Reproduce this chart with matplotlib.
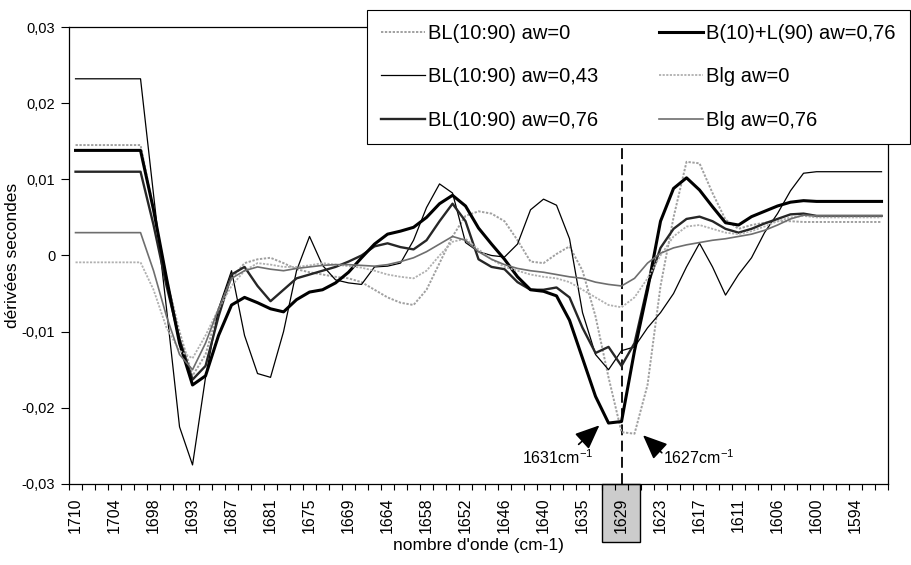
import matplotlib
matplotlib.use("Agg")
import matplotlib.pyplot as plt
from matplotlib.patches import Rectangle
import matplotlib.transforms as mtransforms
import numpy as np

plt.rcParams['font.family'] = ['Liberation Sans', 'DejaVu Sans']
plt.rcParams['mathtext.default'] = 'regular'

# wavenumbers (cm-1), one per category
wavenumbers = [1710, 1708, 1706, 1704, 1702, 1700, 1698, 1696, 1695, 1693,
               1691, 1689, 1687, 1685, 1683, 1681, 1679, 1677, 1675, 1673,
               1671, 1669, 1667, 1666, 1664, 1662, 1660, 1658, 1656, 1654,
               1652, 1650, 1648, 1646, 1644, 1642, 1640, 1638, 1637, 1635,
               1633, 1631, 1629, 1627, 1625, 1623, 1621, 1619, 1617, 1615,
               1613, 1611, 1609, 1608, 1606, 1604, 1602, 1600, 1598, 1596,
               1594, 1592, 1590]

# second derivative spectra
bl_aw0 = [0.0145, 0.0145, 0.0145, 0.0145, 0.0145, 0.0145, 0.006, -0.003, -0.010, -0.0158,
          -0.013, -0.007, -0.003, -0.001, -0.0005, -0.0003, -0.001, -0.0018, -0.0022, -0.0025,
          -0.0028, -0.003, -0.0035, -0.0045, -0.0055, -0.0062, -0.0065, -0.0045, -0.001, 0.0025,
          0.0052, 0.0058, 0.0055, 0.0045, 0.002, -0.0008, -0.001, 0.0002, 0.0012, -0.002,
          -0.008, -0.016, -0.0232, -0.0234, -0.017, -0.004, 0.005, 0.0123, 0.0121, 0.0082,
          0.0047, 0.0035, 0.004, 0.0043, 0.0045, 0.0045, 0.0044, 0.0044, 0.0044, 0.0044,
          0.0044, 0.0044, 0.0044]
bl_aw043 = [0.0232, 0.0232, 0.0232, 0.0232, 0.0232, 0.0232, 0.008, -0.007, -0.0225, -0.0275,
            -0.016, -0.007, -0.002, -0.0105, -0.0155, -0.016, -0.010, -0.002, 0.0025, -0.0013,
            -0.0032, -0.0036, -0.0038, -0.0015, -0.0014, -0.001, 0.002, 0.0063, 0.0094, 0.0082,
            0.0017, 0.0005, 0.0, -0.0002, 0.0015, 0.006, 0.0074, 0.0066, 0.0022, -0.0075,
            -0.013, -0.015, -0.0125, -0.012, -0.0095, -0.0075, -0.005, -0.0015, 0.0016, -0.0015,
            -0.0052, -0.0025, -0.0003, 0.003, 0.0055, 0.0085, 0.0108, 0.011, 0.011, 0.011,
            0.011, 0.011, 0.011]
bl_aw076 = [0.011, 0.011, 0.011, 0.011, 0.011, 0.011, 0.004, -0.004, -0.011, -0.0163,
            -0.0145, -0.008, -0.0025, -0.0015, -0.004, -0.006, -0.0045, -0.003, -0.0025, -0.002,
            -0.0015, -0.0008, 0.0, 0.0012, 0.0016, 0.0011, 0.0008, 0.002, 0.0045, 0.0068,
            0.0045, -0.0005, -0.0015, -0.0018, -0.0035, -0.0045, -0.0045, -0.0042, -0.0055, -0.0095,
            -0.0128, -0.012, -0.0145, -0.0115, -0.004, 0.001, 0.0035, 0.0048, 0.0051, 0.0045,
            0.0035, 0.003, 0.0035, 0.0042, 0.0048, 0.0054, 0.0055, 0.0052, 0.0052, 0.0052,
            0.0052, 0.0052, 0.0052]
bl_sep076 = [0.0138, 0.0138, 0.0138, 0.0138, 0.0138, 0.0138, 0.006, -0.003, -0.0115, -0.017,
             -0.0158, -0.0105, -0.0065, -0.0055, -0.0062, -0.007, -0.0074, -0.0058, -0.0048, -0.0045,
             -0.0036, -0.0022, -0.0003, 0.0015, 0.0028, 0.0032, 0.0037, 0.005, 0.0068, 0.0079,
             0.0065, 0.0036, 0.0015, -0.0005, -0.0028, -0.0045, -0.0047, -0.0053, -0.0085, -0.0135,
             -0.0185, -0.022, -0.0218, -0.0125, -0.0045, 0.0045, 0.0088, 0.0102, 0.0086, 0.0064,
             0.0043, 0.004, 0.0051, 0.0058, 0.0065, 0.007, 0.0072, 0.0071, 0.0071, 0.0071,
             0.0071, 0.0071, 0.0071]
blg_aw0 = [-0.0009, -0.0009, -0.0009, -0.0009, -0.0009, -0.0009, -0.0045, -0.0095, -0.0125, -0.0135,
           -0.0105, -0.007, -0.004, -0.002, -0.001, -0.0012, -0.0015, -0.0015, -0.0013, -0.001,
           -0.0012, -0.0014, -0.0016, -0.002, -0.0025, -0.0028, -0.003, -0.002, 0.0, 0.0018,
           0.0022, 0.0008, -0.0005, -0.0015, -0.002, -0.0025, -0.0028, -0.003, -0.0035, -0.0045,
           -0.0055, -0.0065, -0.0068, -0.0055, -0.003, 0.0, 0.0025, 0.0038, 0.004, 0.0035,
           0.003, 0.0028, 0.0032, 0.0038, 0.0045, 0.005, 0.0052, 0.005, 0.005, 0.005,
           0.005, 0.005, 0.005]
blg_aw076 = [0.003, 0.003, 0.003, 0.003, 0.003, 0.003, -0.002, -0.008, -0.013, -0.015,
             -0.0115, -0.007, -0.003, -0.002, -0.0015, -0.0018, -0.002, -0.0017, -0.0015, -0.0013,
             -0.0012, -0.0012, -0.0013, -0.0014, -0.0012, -0.0008, -0.0003, 0.0005, 0.0015, 0.0025,
             0.002, 0.0005, -0.0005, -0.0012, -0.0017, -0.002, -0.0022, -0.0025, -0.0028, -0.003,
             -0.0035, -0.0038, -0.004, -0.003, -0.001, 0.0003, 0.001, 0.0014, 0.0017, 0.002,
             0.0022, 0.0025, 0.0028, 0.0033, 0.004, 0.0048, 0.0053, 0.0052, 0.0052, 0.0052,
             0.0052, 0.0052, 0.0052]

x = np.arange(len(wavenumbers))

fig = plt.figure(figsize=(9.12, 5.65), dpi=100)
ax = fig.add_axes([0.0757, 0.1434, 0.8980, 0.8088])

dot = (0, (1.2, 0.8))
ax.plot(x, bl_aw0, color='#a0a0a0', lw=1.4, ls=dot, label='BL(10:90) aw=0')
ax.plot(x, bl_aw043, color='black', lw=0.9, label='BL(10:90) aw=0,43')
ax.plot(x, bl_aw076, color='#262626', lw=1.7, label='BL(10:90) aw=0,76')
ax.plot(x, bl_sep076, color='black', lw=2.2, label='B(10)+L(90) aw=0,76')
ax.plot(x, blg_aw0, color='#b0b0b0', lw=1.3, ls=dot, label='Blg aw=0')
ax.plot(x, blg_aw076, color='#6e6e6e', lw=1.2, label='Blg aw=0,76')

# marked band
i29 = wavenumbers.index(1629)
ax.axvline(i29, color='black', lw=1.3, ls=(0, (6, 3)), zorder=1)
trans = mtransforms.blended_transform_factory(ax.transData, ax.transAxes)
ax.add_patch(Rectangle((i29 - 1.5, -0.127), 2.95, 0.127, transform=trans, clip_on=False,
                       fc='#cccccc', ec='black', lw=1.0, zorder=1))

ax.set_xlim(-0.5, len(wavenumbers) - 0.5)
ax.set_ylim(-0.03, 0.03)
ax.set_yticks([-0.03, -0.02, -0.01, 0, 0.01, 0.02, 0.03])
ax.set_yticklabels(['-0,03', '-0,02', '-0,01', '0', '0,01', '0,02', '0,03'], fontsize=10.5)
ax.tick_params(axis='y', length=6, width=0.8, pad=4)

lab_pos = x[::3]
ax.set_xticks(lab_pos)
ax.set_xticklabels([str(wavenumbers[i]) for i in lab_pos], rotation=90, fontsize=11.5)
ax.tick_params(axis='x', which='major', length=0, pad=10)
ax.set_xticks(np.arange(-0.5, len(wavenumbers), 1), minor=True)
ax.tick_params(axis='x', which='minor', length=4, width=0.8)

for s in ax.spines.values():
    s.set_linewidth(0.9)

ax.set_ylabel('dérivées secondes', fontsize=12.5, labelpad=1)
ax.set_xlabel("nombre d'onde (cm-1)", fontsize=12.5, labelpad=3)

# arrows to the two minima
i31 = wavenumbers.index(1631)
i27 = wavenumbers.index(1627)
arrow = dict(arrowstyle='-|>,head_length=0.75,head_width=0.32', color='black', lw=1.2,
             mutation_scale=20, shrinkA=0, shrinkB=0)
ax.annotate('', xy=(i31 - 0.7, bl_sep076[i31] - 0.0003), xytext=(i31 - 2.3, bl_sep076[i31] - 0.0028),
            arrowprops=arrow)
ax.annotate('', xy=(i27 + 0.65, bl_aw0[i27] - 0.0002), xytext=(i27 + 2.1, bl_aw0[i27] - 0.0025),
            arrowprops=arrow)
ax.text(i31 - 1.2, -0.0266, '1631cm$^{-1}$', ha='right', va='center', fontsize=11.5)
ax.text(i27 + 2.2, -0.0266, '1627cm$^{-1}$', ha='left', va='center', fontsize=11.5)

leg = fig.legend(loc='upper left', bbox_to_anchor=(0.402, 0.982), ncol=2, fontsize=14.5,
                 frameon=True, fancybox=False, framealpha=1, edgecolor='black',
                 borderaxespad=0, borderpad=0.7, labelspacing=1.2, handlelength=2.2,
                 handletextpad=0.15, columnspacing=3.0)
leg.get_frame().set_linewidth(0.8)

fig.savefig('out.png', dpi=100)
